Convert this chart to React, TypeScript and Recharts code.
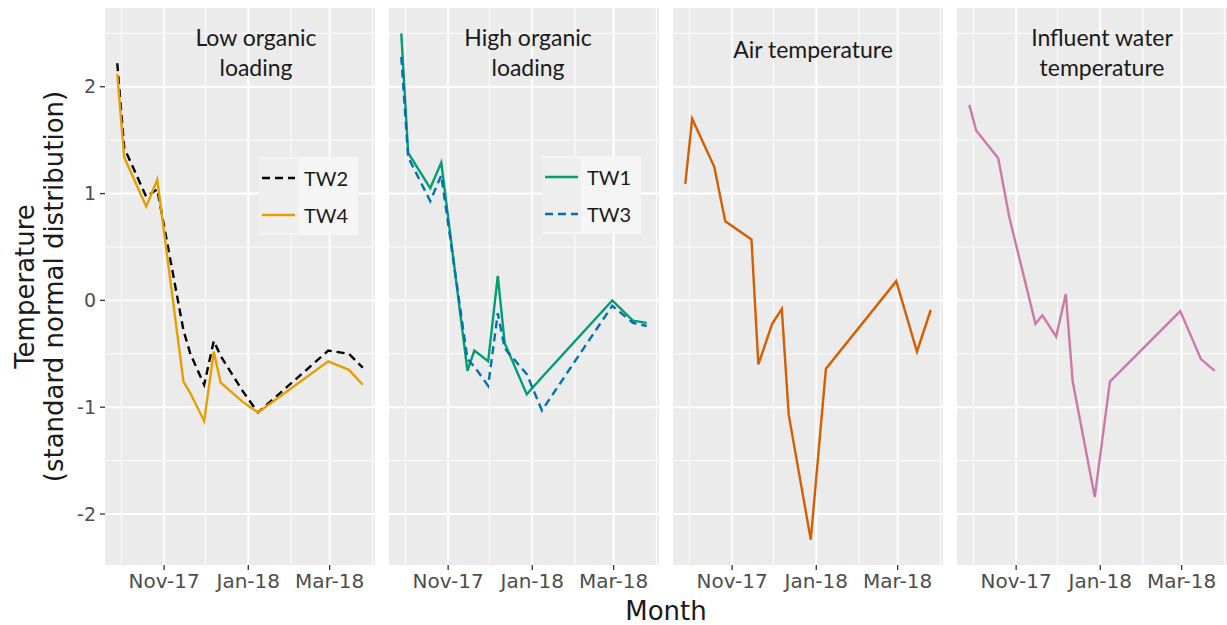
import { LineChart, Line, XAxis, YAxis, CartesianGrid, Legend } from 'recharts';

// sampling dates shared by all four panels
const dates = [
  '2017-09-28', '2017-10-03', '2017-10-19', '2017-10-27', '2017-11-15', '2017-11-20', '2017-11-30',
  '2017-12-07', '2017-12-12', '2017-12-28', '2018-01-08', '2018-02-28', '2018-03-15', '2018-03-25',
];

const tw2 = [2.22, 1.43, 0.97, 1.04, -0.28, -0.5, -0.79, -0.38, -0.52, -0.85, -1.05, -0.47, -0.5, -0.63];
const tw4 = [2.12, 1.34, 0.88, 1.13, -0.76, -0.87, -1.13, -0.48, -0.77, -0.95, -1.05, -0.57, -0.65, -0.79];
const tw1 = [2.5, 1.38, 1.05, 1.29, -0.66, -0.47, -0.57, 0.23, -0.4, -0.88, -0.72, 0.0, -0.19, -0.21];
const tw3 = [2.28, 1.34, 0.93, 1.17, -0.55, -0.62, -0.8, -0.12, -0.45, -0.69, -1.03, -0.05, -0.21, -0.24];
const airTemp = [1.09, 1.7, 1.25, 0.74, 0.57, -0.6, -0.22, -0.08, -1.07, -2.24, -0.64, 0.18, -0.48, -0.09];
const waterTemp = [1.83, 1.59, 1.33, 0.78, -0.22, -0.14, -0.34, 0.06, -0.76, -1.84, -0.76, -0.1, -0.55, -0.66];

const monthTicks = ['2017-11-01', '2018-01-01', '2018-03-01'];
const minorMonths = ['2017-10-01', '2017-12-01', '2018-02-01', '2018-04-01'];
const yTicks = [-2, -1, 0, 1, 2];
const yMinor = [-1.5, -0.5, 0.5, 1.5, 2.5];
const panelTitles = [['Low organic', 'loading'], ['High organic', 'loading'], ['Air temperature'], ['Influent water', 'temperature']];

const MON = ['Jan', 'Feb', 'Mar', 'Apr', 'May', 'Jun', 'Jul', 'Aug', 'Sep', 'Oct', 'Nov', 'Dec'];
const ts = (s: string) => Date.UTC(+s.slice(0, 4), +s.slice(5, 7) - 1, +s.slice(8, 10));
const fmtMonth = (v: number) => {
  const d = new Date(v);
  return `${MON[d.getUTCMonth()]}-${String(d.getUTCFullYear()).slice(2)}`;
};

const rows = dates.map((d, i) => ({
  t: ts(d),
  tw2: tw2[i],
  tw4: tw4[i],
  tw1: tw1[i],
  tw3: tw3[i],
  air: airTemp[i],
  water: waterTemp[i],
}));

// ggplot-like 5% expansion on both axes
const times = rows.map((r) => r.t);
const tPad = (Math.max(...times) - Math.min(...times)) * 0.05;
const xDomain = [Math.min(...times) - tPad, Math.max(...times) + tPad];
const allY = [...tw2, ...tw4, ...tw1, ...tw3, ...airTemp, ...waterTemp];
const yPad = (Math.max(...allY) - Math.min(...allY)) * 0.05;
const yDomain = [Math.min(...allY) - yPad, Math.max(...allY) + yPad];

const xTicks = monthTicks.map(ts);
const xMinor = minorMonths.map(ts);

interface SeriesDef {
  key: string;
  name: string;
  color: string;
  dash?: string;
}

interface PanelDef {
  left: number;
  titleX: number;
  series: SeriesDef[];
  legend?: { left: number; top: number };
}

const PANEL_W = 270;
const Y_AXIS_W = 105;
const TOP = 8;
const X_AXIS_H = 60;
const CHART_H = 625;
const LINE_W = 2.4;

const panels: PanelDef[] = [
  {
    left: 105,
    titleX: 256,
    series: [
      { key: 'tw2', name: 'TW2', color: '#000000', dash: '8 5' },
      { key: 'tw4', name: 'TW4', color: '#E69F00' },
    ],
    legend: { left: 259, top: 157 },
  },
  {
    left: 389,
    titleX: 528,
    series: [
      { key: 'tw1', name: 'TW1', color: '#009E73' },
      { key: 'tw3', name: 'TW3', color: '#0072B2', dash: '8 5' },
    ],
    legend: { left: 542, top: 156 },
  },
  { left: 673, titleX: 813, series: [{ key: 'air', name: 'Air temperature', color: '#D55E00' }] },
  { left: 957, titleX: 1102, series: [{ key: 'water', name: 'Influent water temperature', color: '#CC79A7' }] },
];

function PanelLegend({ payload }: any) {
  return (
    <div style={{ width: 99, height: 78, background: '#F5F5F5', paddingTop: 2, boxSizing: 'border-box' }}>
      {(payload || []).map((entry: any) => (
        <div key={entry.value} style={{ display: 'flex', alignItems: 'center', height: 37 }}>
          <div style={{ width: 39, height: 37, background: '#EEEEEE', display: 'flex', alignItems: 'center', justifyContent: 'center' }}>
            <svg width={33} height={4}>
              <line
                x1={0}
                y1={2}
                x2={33}
                y2={2}
                stroke={entry.color}
                strokeWidth={LINE_W}
                strokeDasharray={entry.payload?.strokeDasharray}
              />
            </svg>
          </div>
          <span style={{ marginLeft: 6, fontFamily: 'Lato', fontSize: 20, color: '#1A1A1A' }}>{entry.value}</span>
        </div>
      ))}
    </div>
  );
}

function YTitle({ viewBox }: any) {
  const cy = viewBox.y + viewBox.height / 2;
  const style = { fontFamily: 'DejaVu Sans', fontSize: 26, fill: '#1A1A1A' };
  return (
    <g>
      <text x={25} y={cy} transform={`rotate(-90 25 ${cy})`} textAnchor="middle" dominantBaseline="central" style={style}>
        Temperature
      </text>
      <text x={54} y={cy} transform={`rotate(-90 54 ${cy})`} textAnchor="middle" dominantBaseline="central" style={style}>
        (standard normal distribution)
      </text>
    </g>
  );
}

function Panel({ def, index }: { def: PanelDef; index: number }) {
  const first = index === 0;
  const chartLeft = first ? 0 : def.left;
  const width = first ? def.left + PANEL_W : PANEL_W;
  return (
    <div style={{ position: 'absolute', left: chartLeft, top: 0 }}>
      <LineChart width={width} height={CHART_H} data={rows} margin={{ top: TOP, right: 0, bottom: 0, left: 0 }}>
        <CartesianGrid
          fill="#EBEBEB"
          fillOpacity={1}
          stroke="#FFFFFF"
          strokeWidth={0.9}
          horizontalValues={yMinor}
          verticalValues={xMinor}
        />
        <CartesianGrid stroke="#FFFFFF" strokeWidth={1.9} horizontalValues={yTicks} verticalValues={xTicks} />
        <XAxis
          type="number"
          dataKey="t"
          domain={xDomain}
          allowDataOverflow
          ticks={xTicks}
          interval={0}
          tickFormatter={fmtMonth}
          axisLine={false}
          tickLine={{ stroke: '#333333', strokeWidth: 1.3 }}
          tickSize={5}
          tickMargin={4}
          tick={{ fill: '#4D4D4D', fontSize: 20, fontFamily: 'DejaVu Sans' }}
          height={X_AXIS_H}
        />
        <YAxis
          hide={!first}
          width={first ? Y_AXIS_W : 0}
          type="number"
          domain={yDomain}
          allowDataOverflow
          ticks={yTicks}
          interval={0}
          axisLine={false}
          tickLine={{ stroke: '#333333', strokeWidth: 1.3 }}
          tickSize={5}
          tickMargin={4}
          tick={{ fill: '#4D4D4D', fontSize: 19, fontFamily: 'DejaVu Sans' }}
          label={first ? { content: (p: any) => <YTitle viewBox={p.viewBox} /> } : undefined}
        />
        {def.series.map((s) => (
          <Line
            key={s.key}
            type="linear"
            dataKey={s.key}
            name={s.name}
            stroke={s.color}
            strokeWidth={LINE_W}
            strokeDasharray={s.dash}
            dot={false}
            activeDot={false}
            isAnimationActive={false}
          />
        ))}
        {def.legend && (
          <Legend
            layout="vertical"
            align="center"
            verticalAlign="middle"
            content={(p: any) => <PanelLegend payload={p.payload} />}
            wrapperStyle={{ left: def.legend.left - chartLeft, top: def.legend.top, width: 99, height: 78 }}
          />
        )}
      </LineChart>
    </div>
  );
}

export default function App() {
  return (
    <div style={{ position: 'absolute', left: 0, top: 0, width: 1227, height: 625, background: '#FFFFFF' }}>
      {panels.map((p, i) => (
        <Panel key={i} def={p} index={i} />
      ))}
      {panels.map((p, i) => (
        <div
          key={`title-${i}`}
          style={{
            position: 'absolute',
            left: p.titleX - 120,
            width: 240,
            top: panelTitles[i].length === 1 ? 34 : 22,
            textAlign: 'center',
            fontFamily: 'Lato',
            fontSize: 23,
            lineHeight: '30px',
            color: '#1A1A1A',
            pointerEvents: 'none',
          }}
        >
          {panelTitles[i].map((line) => (
            <div key={line}>{line}</div>
          ))}
        </div>
      ))}
      <div
        style={{
          position: 'absolute',
          left: 105,
          width: 1122,
          top: 596,
          textAlign: 'center',
          fontFamily: 'DejaVu Sans',
          fontSize: 26,
          lineHeight: '30px',
          color: '#1A1A1A',
        }}
      >
        Month
      </div>
    </div>
  );
}
